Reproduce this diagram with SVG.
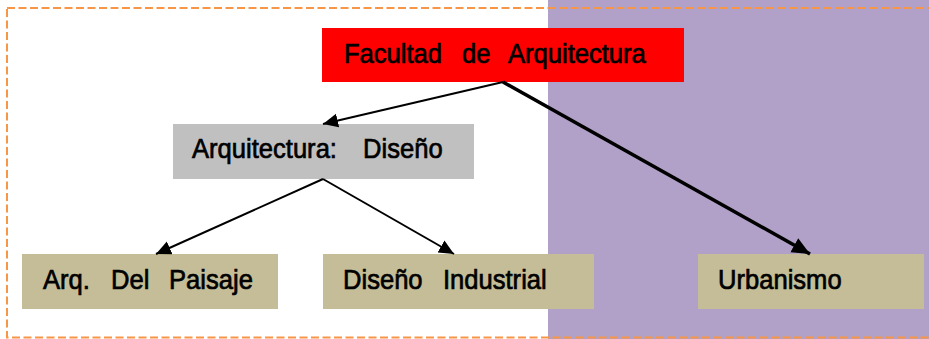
<svg xmlns="http://www.w3.org/2000/svg" width="929" height="339" viewBox="0 0 929 339">
  <style>
    .lbl { font-family: "Liberation Sans", Arial, sans-serif; font-size: 27.5px; fill: #000; stroke: #000; stroke-width: 0.7px; }
    .tan { fill: #C4BD97; }
    .conn { stroke: #000; fill: none; }
  </style>
  <defs>
    <marker id="ah" markerUnits="userSpaceOnUse" markerWidth="16" markerHeight="15" refX="15" refY="7" orient="auto">
      <path d="M0,0 L15,7 L0,14 z" fill="#000"/>
    </marker>
    <marker id="ahb" markerUnits="userSpaceOnUse" markerWidth="19" markerHeight="17" refX="18" refY="8" orient="auto">
      <path d="M0,0 L18,8 L0,16 z" fill="#000"/>
    </marker>
  </defs>

  <rect x="0" y="0" width="929" height="339" fill="#FFFFFF"/>
  <rect x="548" y="0" width="381" height="339" fill="#B1A0C7"/>
  <rect x="7" y="8" width="940" height="329.5" fill="none" stroke="#F79646" stroke-width="2" stroke-dasharray="8,3.5"/>

  <g id="facultad">
    <rect x="322" y="28" width="362" height="54" fill="#FF0000"/>
    <text class="lbl" transform="translate(344,63) scale(0.93,1)"><tspan x="0">Facultad</tspan><tspan x="126.9">de</tspan><tspan x="176.3">Arquitectura</tspan></text>
  </g>

  <g id="arq-diseno">
    <rect x="173" y="124" width="301" height="55" fill="#C0C0C0"/>
    <text class="lbl" transform="translate(192,158) scale(0.93,1)"><tspan x="0">Arquitectura:</tspan><tspan x="183.9">Diseño</tspan></text>
  </g>

  <g id="paisaje">
    <rect class="tan" x="22" y="254" width="256" height="55"/>
    <text class="lbl" transform="translate(43,288.5) scale(0.93,1)"><tspan x="0">Arq.</tspan><tspan x="73.1">Del</tspan><tspan x="135.5">Paisaje</tspan></text>
  </g>

  <g id="industrial">
    <rect class="tan" x="323" y="254" width="271" height="55"/>
    <text class="lbl" transform="translate(343,288.5) scale(0.93,1)"><tspan x="0">Diseño</tspan><tspan x="107.5">Industrial</tspan></text>
  </g>

  <g id="urbanismo">
    <rect class="tan" x="698" y="254" width="226" height="55"/>
    <text class="lbl" transform="translate(718,288.5) scale(0.93,1)">Urbanismo</text>
  </g>

  <g id="connectors">
    <line class="conn" x1="503" y1="82" x2="323" y2="124" stroke-width="2" marker-end="url(#ah)"/>
    <line class="conn" x1="503" y1="82" x2="810" y2="254" stroke-width="3.5" marker-end="url(#ahb)"/>
    <line class="conn" x1="323" y1="179" x2="156" y2="254" stroke-width="2" marker-end="url(#ah)"/>
    <line class="conn" x1="323" y1="179" x2="454" y2="254" stroke-width="2" marker-end="url(#ah)"/>
  </g>
</svg>
